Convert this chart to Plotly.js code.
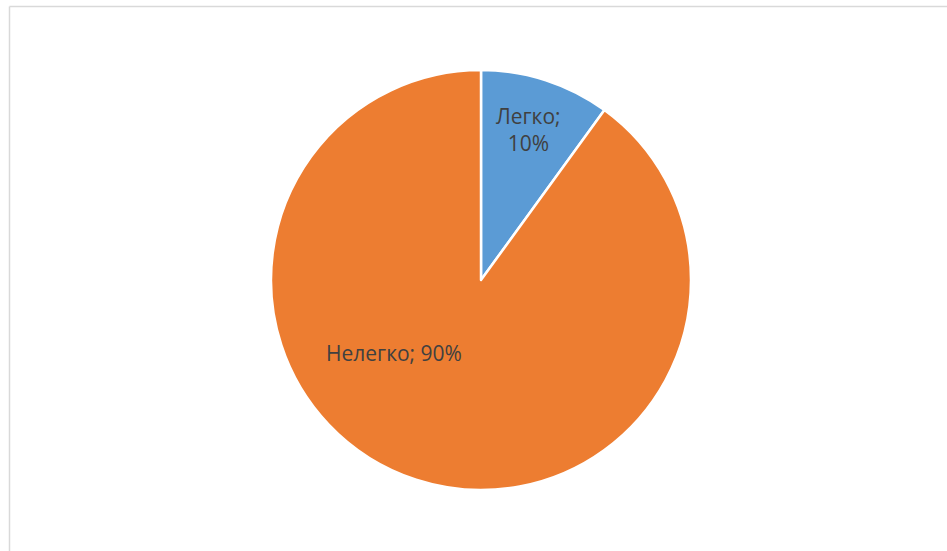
<!DOCTYPE html>
<html>
<head>
<meta charset="utf-8">
<script src="https://cdn.plot.ly/plotly-3.0.1.min.js"></script>
<style>html,body{margin:0;padding:0;background:#fff;}#chart{width:947px;height:551px;}</style>
</head>
<body>
<div id="chart"></div>
<script>
const labels = ["Легко", "Нелегко"];
const values = [10, 90];
const colors = ["#5B9BD5", "#ED7D31"];

const W = 947, H = 551;
const cx = 481, cy = 280, r = 210;
const px = x => x / W;
const py = y => 1 - y / H;

const total = values.reduce((a, b) => a + b, 0);
const pct = values.map(v => Math.round(v / total * 100) + "%");

const labelPos = [[528, 129], [394, 353]];
const labelText = [labels[0] + ";<br>" + pct[0], labels[1] + "; " + pct[1]];

const data = [{
  type: "pie",
  labels: labels,
  values: values,
  sort: false,
  direction: "clockwise",
  rotation: 0,
  marker: {colors: colors, line: {color: "#ffffff", width: 2.5}},
  textinfo: "none",
  hoverinfo: "label+percent",
  domain: {x: [px(cx - r), px(cx + r)], y: [py(cy + r), py(cy - r)]},
  showlegend: false
}];

const layout = {
  width: W, height: H,
  margin: {l: 0, r: 0, t: 0, b: 0},
  paper_bgcolor: "#ffffff",
  showlegend: false,
  font: {family: "Liberation Sans, Arial, sans-serif", color: "#404040", size: 18},
  annotations: labelText.map((t, i) => ({
    x: px(labelPos[i][0]), y: py(labelPos[i][1]),
    xref: "paper", yref: "paper",
    text: t, showarrow: false,
    font: {family: "Open Sans, Liberation Sans, sans-serif", size: 21, color: "#404040"},
    xanchor: "center", yanchor: "middle", align: "center"
  })),
  shapes: [
    {type: "line", xref: "paper", yref: "paper", x0: px(9.5), x1: px(9.5), y0: py(6.5), y1: 0, line: {color: "#D9D9D9", width: 1.5}},
    {type: "line", xref: "paper", yref: "paper", x0: px(9.5), x1: 1, y0: py(6.5), y1: py(6.5), line: {color: "#D9D9D9", width: 1.5}}
  ]
};

Plotly.newPlot("chart", data, layout, {displayModeBar: false, staticPlot: true});
</script>
</body>
</html>
